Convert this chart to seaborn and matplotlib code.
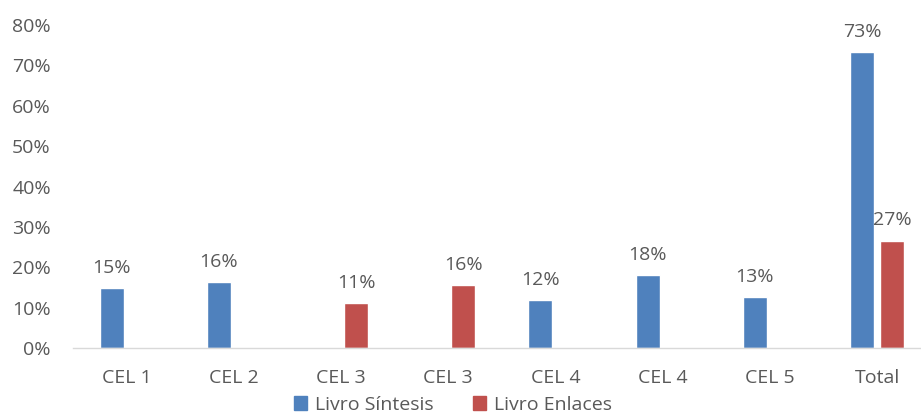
import matplotlib
matplotlib.use('Agg')
import matplotlib.pyplot as plt
import pandas as pd
import seaborn as sns
from matplotlib.ticker import FuncFormatter

# ── Data ──
CATEGORIES = ["CEL 1", "CEL 2", "CEL 3", "CEL 3", "CEL 4", "CEL 4", "CEL 5", "Total"]
SINTESIS = [14.8, 16.4, None, None, 11.8, 18.1, 12.6, 73.4]
ENLACES = [None, None, 11.1, 15.6, None, None, None, 26.6]
SERIES = ["Livro Síntesis", "Livro Enlaces"]
COLORS = ["#4F81BD", "#C0504D"]

sns.set_theme(style="white")
plt.rcParams['font.family'] = ['Open Sans', 'DejaVu Sans']
TXT = '#595959'
FS = 14

# positions keep duplicated category names apart
slots = [f"{i}" for i in range(len(CATEGORIES))]
rows = []
for slot, s, e in zip(slots, SINTESIS, ENLACES):
    if s is not None:
        rows.append({"slot": slot, "serie": SERIES[0], "valor": s})
    if e is not None:
        rows.append({"slot": slot, "serie": SERIES[1], "valor": e})
df = pd.DataFrame(rows)

fig = plt.figure(figsize=(9.21, 4.17), dpi=100)
ax = fig.add_axes([73 / 921, (417 - 348) / 417, (921 - 73) / 921, (348 - 25) / 417])

sns.barplot(data=df, x="slot", y="valor", hue="serie", order=slots,
            hue_order=SERIES, palette=COLORS, width=0.56, gap=0.2,
            ax=ax, legend=False, saturation=1)

for cont in ax.containers:
    labels = [f"{round(b.get_height())}%" for b in cont]
    ax.bar_label(cont, labels=labels, padding=8, fontsize=FS, color=TXT)

ax.set_ylim(0, 80)
ax.set_yticks(range(0, 81, 10))
ax.yaxis.set_major_formatter(FuncFormatter(lambda v, _: f"{v:.0f}%"))
ax.set_xlim(-0.5, (921 - 73) / 107.2 - 0.5)
ax.set_xticks(range(len(CATEGORIES)))
ax.set_xticklabels(CATEGORIES)
ax.set_xlabel("")
ax.set_ylabel("")
ax.tick_params(axis='x', length=0, pad=15, labelsize=FS, labelcolor=TXT)
ax.tick_params(axis='y', length=0, pad=16, labelsize=FS, labelcolor=TXT)
for side in ["left", "right", "top"]:
    ax.spines[side].set_visible(False)
ax.spines["bottom"].set_color("#D9D9D9")
ax.spines["bottom"].set_linewidth(1)

handles = [plt.Rectangle((0, 0), 1, 1, color=c) for c in COLORS]
fig.legend(handles, SERIES, loc='center', bbox_to_anchor=(453 / 921, 1 - 405 / 417),
           ncol=2, frameon=False, fontsize=FS, labelcolor=TXT,
           handlelength=0.7, handleheight=0.7, columnspacing=2.0, handletextpad=0.4,
           borderaxespad=0, borderpad=0)

fig.savefig("out.png", dpi=100, facecolor='white')
